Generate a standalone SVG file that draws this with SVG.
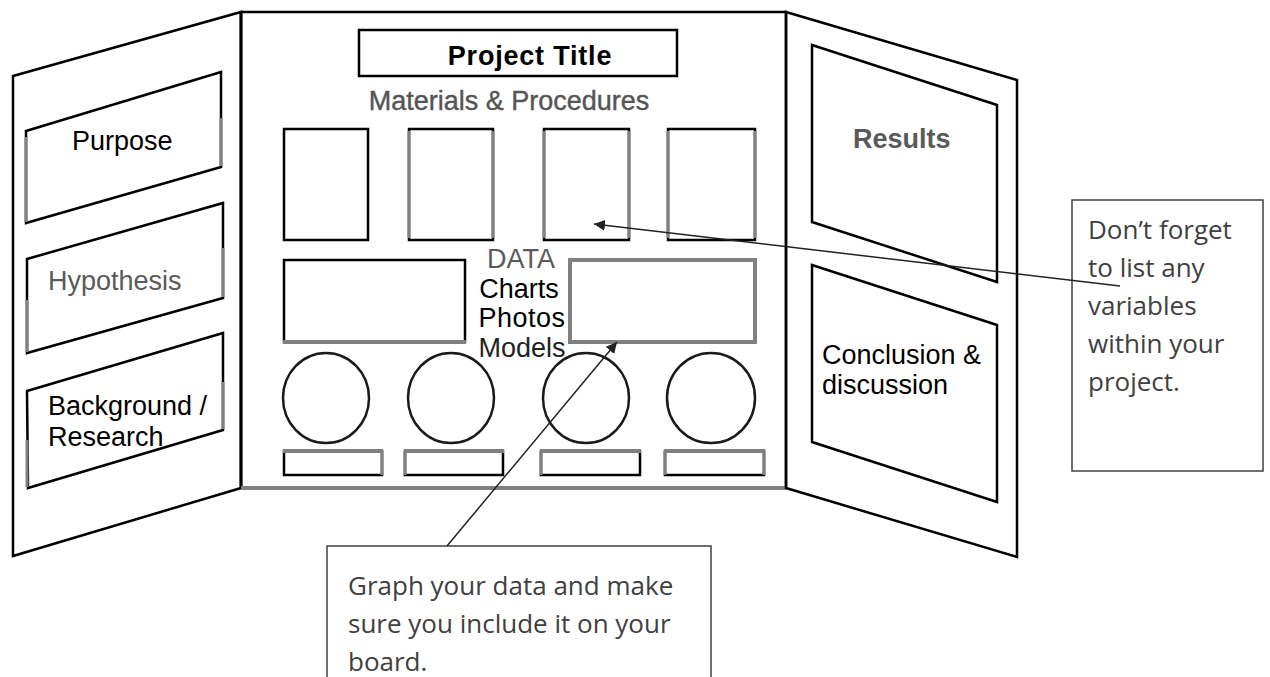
<svg xmlns="http://www.w3.org/2000/svg" width="1270" height="677" viewBox="0 0 1270 677">
<defs>
<style>
.bk{fill:none;stroke:#000;stroke-width:2.5;stroke-linejoin:miter}
.gy{fill:none;stroke:#808080;stroke-width:3}
.gy4{fill:none;stroke:#808080;stroke-width:4}
.lbl{font-family:"Liberation Sans",Arial,sans-serif;font-size:27px;fill:#000}
.gtxt{fill:#5a5a5a}
.mtxt{fill:#555;stroke:#555;stroke-width:0.4}
.dtxt{fill:#222}
.note{font-family:"Open Sans","Noto Sans",sans-serif;font-size:26px;fill:#404040}
.box{fill:#fff;stroke:#404040;stroke-width:1.5}
.conn{stroke:#222;stroke-width:1.5;fill:none}
</style>
<marker id="arr" viewBox="0 0 10 10" refX="10" refY="5" markerWidth="11" markerHeight="11" markerUnits="userSpaceOnUse" orient="auto">
<path d="M0,0 L10,5 L0,10 z" fill="#222"/>
</marker>
</defs>
<rect width="1270" height="677" fill="#fff"/>

<g id="left-panel">
<polygon class="bk" points="13,76 241,12 241,488 13,556"/>
</g>
<g id="purpose">
<polygon class="bk" points="26,131 221,72 221,167 26,223"/>
<line class="gy" x1="26" y1="137" x2="26" y2="222"/>
<line class="gy" x1="221" y1="118" x2="221" y2="166"/>
<text class="lbl" x="72" y="150">Purpose</text>
</g>
<g id="hypothesis">
<polygon class="bk" points="27,259 223,203 223,298 27,353"/>
<line class="gy" x1="27" y1="300" x2="27" y2="352"/>
<line class="gy" x1="223" y1="248" x2="223" y2="297"/>
<text class="lbl gtxt" x="48" y="290">Hypothesis</text>
</g>
<g id="background">
<polygon class="bk" points="27,391 223,333 223,430 28,488"/>
<line class="gy" x1="27" y1="440" x2="27" y2="487"/>
<line class="gy" x1="223" y1="382" x2="223" y2="429"/>
<text class="lbl" x="48" y="415">Background /</text>
<text class="lbl" x="48" y="446">Research</text>
</g>

<g id="center-panel">
<line stroke="#000" stroke-width="2.5" x1="241" y1="12" x2="786" y2="12"/>
<line stroke="#000" stroke-width="3" x1="241" y1="11" x2="241" y2="489"/>
<line stroke="#000" stroke-width="2.5" x1="786" y1="11" x2="786" y2="489"/>
<line stroke="#808080" stroke-width="4" x1="241" y1="488" x2="786" y2="488"/>
</g>
<g id="title">
<rect class="bk" x="359" y="30" width="318" height="46"/>
<text class="lbl" x="530" y="65" font-size="31" font-weight="bold" text-anchor="middle" letter-spacing="0.8">Project Title</text>
</g>
<g id="materials">
<text class="lbl mtxt" x="509" y="110" font-size="29" text-anchor="middle">Materials &amp; Procedures</text>
</g>
<g id="mat-box-1"><rect class="bk" x="284" y="129" width="84" height="111"/></g>
<g id="mat-box-2"><rect class="bk" x="409" y="129" width="84" height="111"/><line class="gy" x1="409" y1="131" x2="409" y2="238"/><line class="gy" x1="493" y1="131" x2="493" y2="238"/></g>
<g id="mat-box-3"><rect class="bk" x="544" y="129" width="85" height="111"/><line class="gy" x1="544" y1="131" x2="544" y2="238"/><line class="gy" x1="629" y1="131" x2="629" y2="238"/></g>
<g id="mat-box-4"><rect class="bk" x="668" y="129" width="87" height="111"/><line class="gy" x1="668" y1="131" x2="668" y2="238"/><line class="gy" x1="755" y1="131" x2="755" y2="238"/></g>

<g id="data-box-left"><rect class="bk" x="284" y="260" width="181" height="82"/><line class="gy4" x1="283" y1="342" x2="466" y2="342"/></g>
<g id="data-text">
<text class="lbl gtxt" x="521" y="268" text-anchor="middle">DATA</text>
<text class="lbl" x="519" y="298" text-anchor="middle">Charts</text>
<text class="lbl" x="522" y="327" text-anchor="middle" letter-spacing="0.5">Photos</text>
<text class="lbl dtxt" x="522" y="357" text-anchor="middle">Models</text>
</g>
<g id="data-box-right"><rect class="gy4" x="570" y="260" width="185" height="82"/></g>

<g id="circle-1"><ellipse fill="none" stroke="#1a1a1a" stroke-width="2.5" cx="326" cy="398" rx="43" ry="45"/></g>
<g id="circle-2"><ellipse fill="none" stroke="#1a1a1a" stroke-width="2.5" cx="451" cy="398" rx="43" ry="45"/></g>
<g id="circle-3"><ellipse fill="none" stroke="#1a1a1a" stroke-width="2.5" cx="586" cy="398" rx="43" ry="45"/></g>
<g id="circle-4"><ellipse fill="none" stroke="#1a1a1a" stroke-width="2.5" cx="711" cy="398" rx="44" ry="45"/></g>

<g id="label-1"><rect class="bk" x="284" y="451" width="98" height="24"/><line class="gy4" x1="283" y1="451" x2="383" y2="451"/><line class="gy" x1="382" y1="451" x2="382" y2="475"/></g>
<g id="label-2"><rect class="bk" x="405" y="451" width="98" height="24"/><line class="gy4" x1="404" y1="451" x2="504" y2="451"/><line class="gy" x1="405" y1="451" x2="405" y2="475"/></g>
<g id="label-3"><rect class="bk" x="541" y="451" width="99" height="24"/><line class="gy4" x1="540" y1="451" x2="641" y2="451"/><line class="gy" x1="541" y1="451" x2="541" y2="475"/></g>
<g id="label-4"><rect class="bk" x="665" y="451" width="99" height="24"/><line class="gy4" x1="664" y1="451" x2="765" y2="451"/><line class="gy" x1="665" y1="451" x2="665" y2="475"/><line class="gy" x1="764" y1="451" x2="764" y2="475"/></g>

<g id="right-panel">
<polygon class="bk" points="786,12 1017,80 1017,557 786,488"/>
</g>
<g id="results">
<polygon class="bk" points="812,45 997,105 997,282 812,222"/>
<text class="lbl gtxt" x="853" y="148" font-weight="bold" font-size="26">Results</text>
</g>
<g id="conclusion">
<polygon class="bk" points="812,265 997,325 997,502 812,442"/>
<text class="lbl" x="822" y="364">Conclusion &amp;</text>
<text class="lbl" x="822" y="394">discussion</text>
</g>

<g id="note-variables">
<rect class="box" x="1072" y="200" width="191" height="271"/>
<text class="note" x="1088" y="239">Don’t forget</text>
<text class="note" x="1088" y="277">to list any</text>
<text class="note" x="1088" y="315">variables</text>
<text class="note" x="1088" y="353">within your</text>
<text class="note" x="1088" y="391">project.</text>
</g>
<g id="note-graph">
<rect class="box" x="327" y="546" width="384" height="140"/>
<text class="note" x="348" y="595">Graph your data and make</text>
<text class="note" x="348" y="633">sure you include it on your</text>
<text class="note" x="348" y="671">board.</text>
</g>

<g id="connectors">
<line class="conn" x1="1120" y1="286" x2="594" y2="224" marker-end="url(#arr)"/>
<line class="conn" x1="447" y1="546" x2="617" y2="342" marker-end="url(#arr)"/>
</g>
</svg>
